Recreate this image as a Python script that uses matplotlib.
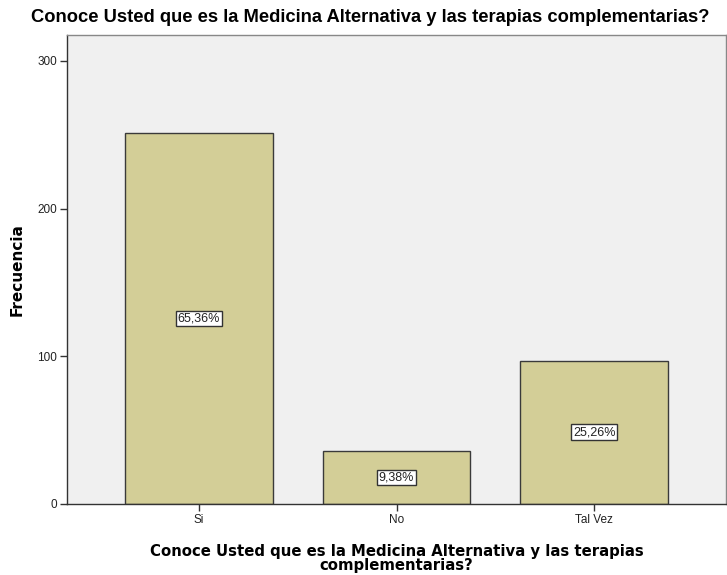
import matplotlib
matplotlib.use("Agg")
import matplotlib.pyplot as plt

plt.rcParams['font.family'] = ['Liberation Sans', 'DejaVu Sans']

categorias = ["Si", "No", "Tal Vez"]
frecuencias = [251, 36, 97]
porcentajes = ["65,36%", "9,38%", "25,26%"]

titulo = "Conoce Usted que es la Medicina Alternativa y las terapias complementarias?"

fig = plt.figure(figsize=(7.27, 5.75), dpi=100)
ax = fig.add_axes([67 / 727, 71 / 575, 659 / 727, 469 / 575])
ax.set_facecolor("#F0F0F0")

x = list(range(len(categorias)))
ax.bar(x, frecuencias, width=0.747, color="#D3CE97", edgecolor="#3a3a3a", linewidth=1.0, zorder=2)

for xi, f, p in zip(x, frecuencias, porcentajes):
    ax.text(xi, f / 2, p, ha="center", va="center", fontsize=9, color="#222222", zorder=3,
            bbox=dict(boxstyle="square,pad=0.15", facecolor="white", edgecolor="#333333", linewidth=1.0))

ax.set_xlim(-0.667, 2.667)
ax.set_ylim(0, 317.5)
ax.set_yticks([0, 100, 200, 300])
ax.set_xticks(x)
ax.set_xticklabels(categorias)
ax.tick_params(axis="both", labelsize=8.5, length=5, width=1, color="#333333", labelcolor="#222222", pad=2)

for s in ["left", "bottom"]:
    ax.spines[s].set_color("#333333")
    ax.spines[s].set_linewidth(1.0)
for s in ["top", "right"]:
    ax.spines[s].set_color("#888888")
    ax.spines[s].set_linewidth(1.0)

ax.set_ylabel("Frecuencia", fontsize=11, fontweight="bold", labelpad=9, family="DejaVu Sans")
ax.set_xlabel("Conoce Usted que es la Medicina Alternativa y las terapias\ncomplementarias?",
              fontsize=10.7, fontweight="bold", labelpad=13, linespacing=0.9, family="DejaVu Sans")

fig.text(0.509, 0.969, titulo, ha="center", va="center", fontsize=13.2, fontweight="bold")

fig.savefig("out.png", dpi=100)
plt.close(fig)
